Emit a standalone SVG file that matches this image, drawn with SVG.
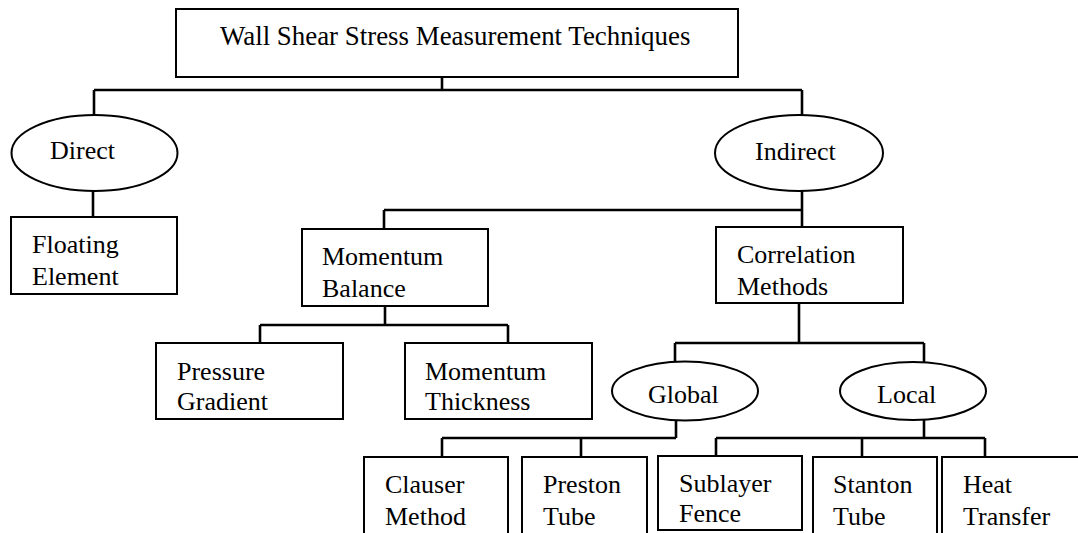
<svg xmlns="http://www.w3.org/2000/svg" width="1078" height="533" viewBox="0 0 1078 533">
<style>
.b{fill:#fff;stroke:#000;stroke-width:2}
.t{font-family:"Liberation Serif","Times New Roman",serif;font-size:26px;fill:#000}
.c{fill:none;stroke:#000;stroke-width:2.6}
</style>
<rect width="1078" height="533" fill="#fff"/>
<g id="connectors">
<path class="c" d="M442 77V90M94 90H802M94 90V115M802 90V115"/>
<path class="c" d="M93 191V217"/>
<path class="c" d="M802 191V227M384 210H802M384 210V229"/>
<path class="c" d="M385 306V325M260 325H508M260 325V343M508 325V343"/>
<path class="c" d="M799 303V343M675 343H924M675 343V362M924 343V362"/>
<path class="c" d="M676 421V438M442 438H676M442 438V457M581 438V457"/>
<path class="c" d="M924 420V438M716 438H985M716 438V456M862 438V457M985 438V457"/>
</g>
<g id="root"><rect class="b" x="176" y="9" width="562" height="68"/><text class="t" x="220" y="45" style="font-size:26.9px">Wall Shear Stress Measurement Techniques</text></g>
<g id="direct"><ellipse class="b" cx="94.5" cy="153" rx="83" ry="38"/><text class="t" x="50" y="159">Direct</text></g>
<g id="indirect"><ellipse class="b" cx="799" cy="153" rx="84" ry="38"/><text class="t" x="755" y="160">Indirect</text></g>
<g id="floating"><rect class="b" x="11" y="217" width="166" height="77"/><text class="t" x="32" y="253">Floating</text><text class="t" x="32" y="285">Element</text></g>
<g id="momentum-balance"><rect class="b" x="302" y="229" width="186" height="77"/><text class="t" x="322" y="265">Momentum</text><text class="t" x="322" y="297">Balance</text></g>
<g id="correlation"><rect class="b" x="716" y="227" width="187" height="76"/><text class="t" x="737" y="263">Correlation</text><text class="t" x="737" y="295">Methods</text></g>
<g id="pressure"><rect class="b" x="156" y="343" width="187" height="76"/><text class="t" x="177" y="380">Pressure</text><text class="t" x="177" y="410">Gradient</text></g>
<g id="momentum-thickness"><rect class="b" x="405" y="343" width="187" height="76"/><text class="t" x="425" y="380">Momentum</text><text class="t" x="425" y="410">Thickness</text></g>
<g id="global"><ellipse class="b" cx="685" cy="391" rx="73" ry="29.5"/><text class="t" x="648" y="403">Global</text></g>
<g id="local"><ellipse class="b" cx="913" cy="391" rx="73" ry="29"/><text class="t" x="877" y="403">Local</text></g>
<g id="clauser"><rect class="b" x="364" y="457" width="144" height="90"/><text class="t" x="385" y="493">Clauser</text><text class="t" x="385" y="525">Method</text></g>
<g id="preston"><rect class="b" x="522" y="457" width="125" height="90"/><text class="t" x="543" y="493">Preston</text><text class="t" x="543" y="525">Tube</text></g>
<g id="sublayer"><rect class="b" x="658" y="456" width="144" height="74"/><text class="t" x="679" y="492">Sublayer</text><text class="t" x="679" y="522">Fence</text></g>
<g id="stanton"><rect class="b" x="813" y="457" width="124" height="90"/><text class="t" x="833" y="493">Stanton</text><text class="t" x="833" y="525">Tube</text></g>
<g id="heat"><rect class="b" x="942" y="457" width="150" height="90"/><text class="t" x="963" y="493">Heat</text><text class="t" x="963" y="525">Transfer</text></g>
</svg>
